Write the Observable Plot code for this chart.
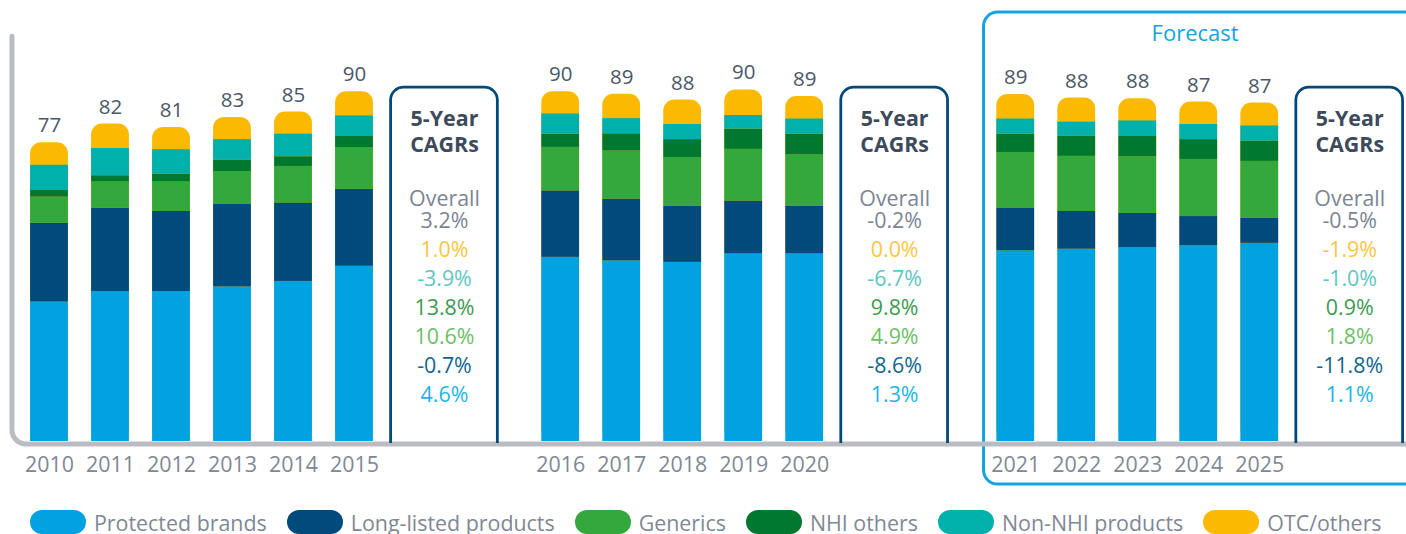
<!DOCTYPE html>
<html>
<head>
<meta charset="utf-8">
<script src="https://cdn.jsdelivr.net/npm/d3@7"></script>
<script src="https://cdn.jsdelivr.net/npm/@observablehq/plot@0.6"></script>
<style>
  html, body { margin: 0; padding: 0; background: #fff; overflow: hidden; }
  body { font-family: "Open Sans", sans-serif; width: 1406px; height: 534px; }
  #legend { display: flex; align-items: center; padding-left: 30px; margin-top: 12px; height: 24px;
            font-size: 21.4px; color: #7f8895; white-space: nowrap; }
  #legend .item { display: flex; align-items: center; margin-right: 20px; }
  #legend .sw { width: 56px; height: 24px; border-radius: 12px; margin-right: 8px; }
</style>
</head>
<body>
<div id="chart"></div>
<div id="legend"></div>
<script>
// ---------- data ----------
const years = [2010, 2011, 2012, 2013, 2014, 2015, 2016, 2017, 2018, 2019, 2020, 2021, 2022, 2023, 2024, 2025];
const totals = [77, 82, 81, 83, 85, 90, 90, 89, 88, 90, 89, 89, 88, 88, 87, 87];
const seriesNames = ["Protected brands", "Long-listed products", "Generics", "NHI others", "Non-NHI products", "OTC/others"];
const protectedBrands = [35.9, 38.6, 38.6, 39.8, 41.2, 45.1, 47.4, 46.5, 46.1, 48.3, 48.3, 49.1, 49.5, 49.9, 50.4, 51.0];
const longListed      = [20.3, 21.4, 20.6, 21.2, 20.2, 19.8, 17.1, 15.9, 14.5, 13.6, 12.3, 11.0, 9.7, 8.8, 7.5, 6.5];
const generics        = [6.7, 6.8, 7.6, 8.5, 9.4, 10.7, 11.2, 12.4, 12.5, 13.3, 13.2, 14.3, 14.2, 14.6, 14.7, 14.6];
const nhiOthers       = [1.7, 1.6, 2.0, 2.9, 2.5, 2.9, 3.4, 4.4, 4.6, 5.2, 5.3, 4.7, 5.2, 5.2, 5.1, 5.2];
const nonNhi          = [6.5, 7.0, 6.3, 5.3, 5.8, 5.3, 5.2, 3.9, 3.9, 3.5, 3.9, 3.9, 3.6, 4.0, 3.9, 3.9];
const otcOthers       = [5.8, 6.3, 5.7, 5.7, 5.7, 6.2, 5.7, 6.3, 6.3, 6.6, 5.8, 6.3, 6.2, 5.7, 5.8, 5.9];

const periodFirstYear = [2010, 2016, 2021];
const periodLastYear  = [2015, 2020, 2025];
const cagrTitle = "5-Year\nCAGRs";
const cagrOverallLabel = "Overall";
const cagrOverall    = ["3.2%", "-0.2%", "-0.5%"];
const cagrOtc        = ["1.0%", "0.0%", "-1.9%"];
const cagrNonNhi     = ["-3.9%", "-6.7%", "-1.0%"];
const cagrNhi        = ["13.8%", "9.8%", "0.9%"];
const cagrGenerics   = ["10.6%", "4.9%", "1.8%"];
const cagrLongListed = ["-0.7%", "-8.6%", "-11.8%"];
const cagrProtected  = ["4.6%", "1.3%", "1.1%"];
const forecastLabel = "Forecast";

// ---------- styles ----------
const seriesColors = ["#00a3e0", "#004a7c", "#33a83c", "#00782f", "#00b0aa", "#fbb900"];
const cagrTextColors = ["#1eb4e8", "#10668f", "#6cbf66", "#3d9a52", "#5ec7c1", "#fcc640"];
const FONT = '"Open Sans", sans-serif';
const CAGR_SIZE = 21.4;

// ---------- layout (slot units) ----------
const groupStart = [0, 8.38, 15.84];
const halfBar = 0.31;
const groupOf = years.map(y => periodFirstYear.findIndex((f, g) => y >= f && y <= periodLastYear[g]));
const slot = years.map((y, i) => groupStart[groupOf[i]] + (y - periodFirstYear[groupOf[i]]));

const seriesValues = [protectedBrands, longListed, generics, nhiOthers, nonNhi, otcOthers];
const segments = [];
years.forEach((yr, i) => {
  let base = 0;
  seriesValues.forEach((vals, s) => {
    segments.push({year: yr, x1: slot[i] - halfBar, x2: slot[i] + halfBar, series: seriesNames[s], y1: base, y2: base + vals[i]});
    base += vals[i];
  });
});
const bars = years.map((yr, i) => ({
  year: String(yr), slot: slot[i], x1: slot[i] - halfBar, x2: slot[i] + halfBar,
  top: d3.sum(seriesValues, v => v[i]), label: String(totals[i])
}));

const boxes = [0, 1, 2].map(g => {
  const last = groupStart[g] + (periodLastYear[g] - periodFirstYear[g]);
  return {x1: last + 0.6, x2: last + 2.35, cx: last + 1.475,
    title: cagrTitle, overall: cagrOverallLabel + "\n" + cagrOverall[g],
    otc: cagrOtc[g], nonNhi: cagrNonNhi[g], nhi: cagrNhi[g], gen: cagrGenerics[g], ll: cagrLongListed[g], prot: cagrProtected[g]};
});
const boxTop = 91.1, boxBottom = -0.5;
const forecast = [{x1: groupStart[2] - 0.52, x2: 22.6, y1: -11.1, y2: 110.4, cx: 18.78, ty: 104.8, label: forecastLabel}];
const axisSlot = -0.607, axisTop = 104.2, axisBottom = -0.77;

function axisLine(index, scales, values, dimensions) {
  const x = scales.x(axisSlot), yt = scales.y(axisTop), yb = scales.y(axisBottom), r = 14;
  const p = d3.path();
  p.moveTo(x, yt); p.lineTo(x, yb - r); p.arcTo(x, yb, x + r, yb, r); p.lineTo(dimensions.width + 20, yb);
  const path = d3.create("svg:path").attr("d", p.toString()).attr("fill", "none")
    .attr("stroke", "#b9bdc3").attr("stroke-width", 5).attr("stroke-linecap", "round");
  return path.node();
}
function cagrBoxes(index, scales) {
  const g = d3.create("svg:g");
  for (const b of boxes) {
    const x1 = scales.x(b.x1), x2 = scales.x(b.x2), yt = scales.y(boxTop), yb = scales.y(boxBottom), r = 13;
    const p = d3.path();
    p.moveTo(x1, yb); p.lineTo(x1, yt + r); p.arcTo(x1, yt, x1 + r, yt, r);
    p.lineTo(x2 - r, yt); p.arcTo(x2, yt, x2, yt + r, r); p.lineTo(x2, yb);
    g.append("path").attr("d", p.toString()).attr("fill", "none").attr("stroke", "#02497b").attr("stroke-width", 2.8);
  }
  return g.node();
}

const cagrLine = (field, dy, fill, extra = {}) =>
  Plot.text(boxes, {x: "cx", y: () => boxTop, text: field, dy, fill, fontSize: CAGR_SIZE, ...extra});

const chart = Plot.plot({
  width: 1406, height: 498, margin: 0,
  x: {domain: [0, 1], range: [49, 110], axis: null},
  y: {domain: [0, 100], range: [441, 52.5], axis: null},
  color: {domain: seriesNames, range: seriesColors},
  style: {fontFamily: FONT, background: "white"},
  marks: [
    Plot.rect(forecast, {x1: "x1", x2: "x2", y1: "y1", y2: "y2", fill: "none", stroke: "#12a4df", strokeWidth: 3, rx: 14}),
    Plot.text(forecast, {x: "cx", y: "ty", text: "label", fill: "#12a4df", fontSize: 22, fontWeight: 500}),
    Plot.rect(bars, {x1: "x1", x2: "x2", y1: () => 0, y2: "top", fill: seriesColors[5], rx: 11}),
    Plot.rect(segments.filter(d => d.series !== seriesNames[5]), {x1: "x1", x2: "x2", y1: "y1", y2: "y2", fill: "series"}),
    Plot.text(bars, {x: "slot", y: "top", text: "label", dy: -17, fill: "#4b5768", fontSize: 20.5}),
    Plot.text(bars, {x: "slot", y: () => 0, text: "year", dy: 24, fill: "#7f8895", fontSize: 21.4}),
    axisLine,
    cagrBoxes,
    cagrLine("title", 43, "#3d4a5b", {fontWeight: "bold", lineHeight: 1.24}),
    cagrLine("overall", 122.2, "#7b8593", {lineHeight: 1.01}),
    cagrLine("otc", 163, cagrTextColors[5]),
    cagrLine("nonNhi", 192, cagrTextColors[4]),
    cagrLine("nhi", 221, cagrTextColors[3]),
    cagrLine("gen", 250, cagrTextColors[2]),
    cagrLine("ll", 279, cagrTextColors[1]),
    cagrLine("prot", 308, cagrTextColors[0])
  ]
});
document.getElementById("chart").append(chart);

// legend
const legend = document.getElementById("legend");
seriesNames.forEach((name, i) => {
  const item = document.createElement("div"); item.className = "item";
  const sw = document.createElement("div"); sw.className = "sw"; sw.style.background = seriesColors[i];
  const label = document.createElement("span"); label.textContent = name;
  item.append(sw, label); legend.append(item);
});
</script>
</body>
</html>
